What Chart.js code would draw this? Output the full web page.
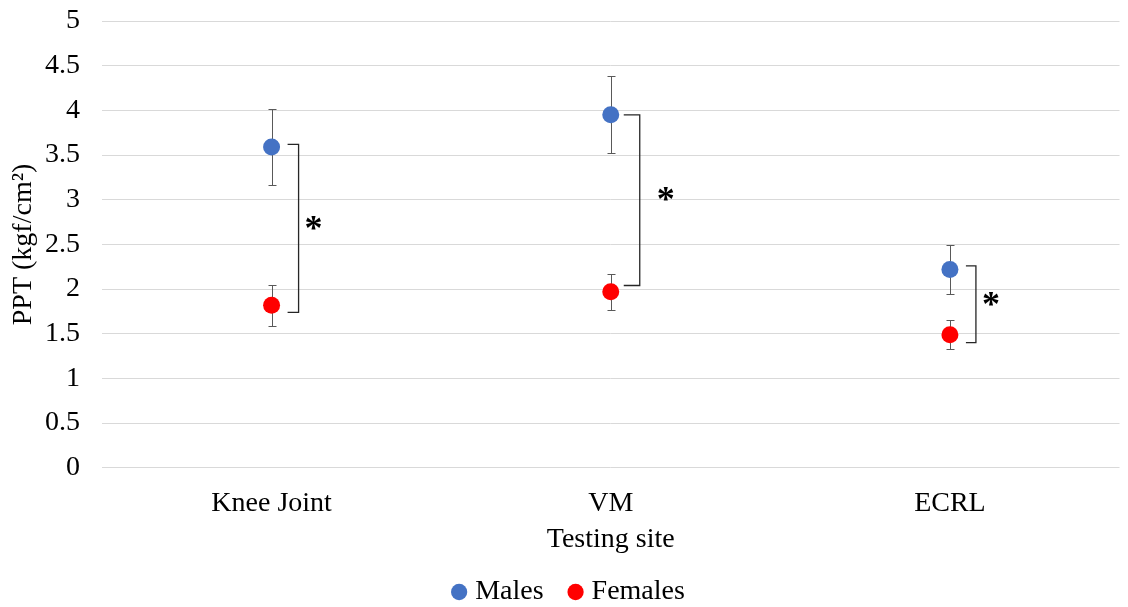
<!DOCTYPE html>
<html>
<head>
<meta charset="utf-8">
<script src="https://cdn.jsdelivr.net/npm/chart.js@4/dist/chart.umd.min.js"></script>
<style>
html,body{margin:0;padding:0;background:#fff;}
#wrap{width:1128px;height:607px;position:relative;}
</style>
</head>
<body>
<div id="wrap"><canvas id="c" width="1128" height="607"></canvas></div>
<script>
const categories = ["Knee Joint", "VM", "ECRL"];
const malesMean = [3.59, 3.95, 2.22];
const malesErr = [0.43, 0.43, 0.27];
const femalesMean = [1.82, 1.97, 1.49];
const femalesErr = [0.23, 0.20, 0.16];
const bracketTop = [3.62, 3.95, 2.26];
const bracketBottom = [1.74, 2.04, 1.40];
const yTicks = [0, 0.5, 1, 1.5, 2, 2.5, 3, 3.5, 4, 4.5, 5];

const SERIF = "'Liberation Serif', 'Times New Roman', serif";
const FS = 28;
const bracketStyle = [{start:16, end:27, star:15}, {start:13, end:29, star:26}, {start:16, end:26, star:15}];

const errorBarPlugin = {
  id: 'errorBars',
  beforeDatasetsDraw(chart) {
    const ctx = chart.ctx;
    const y = chart.scales.y;
    ctx.save();
    ctx.strokeStyle = '#595959';
    ctx.lineWidth = 1;
    chart.data.datasets.forEach((ds, di) => {
      const meta = chart.getDatasetMeta(di);
      meta.data.forEach((pt, i) => {
        const e = ds.errors[i];
        const v = ds.data[i];
        const yt = Math.round(y.getPixelForValue(v + e)) + 0.5;
        const yb = Math.round(y.getPixelForValue(v - e)) + 0.5;
        const x = Math.round(pt.x) + 0.5;
        ctx.beginPath();
        ctx.moveTo(x, yt); ctx.lineTo(x, yb);
        ctx.moveTo(x - 4, yt); ctx.lineTo(x + 4, yt);
        ctx.moveTo(x - 4, yb); ctx.lineTo(x + 4, yb);
        ctx.stroke();
      });
    });
    ctx.restore();
  }
};

const bracketPlugin = {
  id: 'brackets',
  afterDatasetsDraw(chart) {
    const ctx = chart.ctx;
    const xs = chart.scales.x, ys = chart.scales.y;
    ctx.save();
    ctx.strokeStyle = '#262626';
    ctx.lineWidth = 1.3;
    categories.forEach((c, i) => {
      const cx = xs.getPixelForValue(i);
      const x0 = cx + bracketStyle[i].start;
      const x1 = cx + bracketStyle[i].end;
      const yt = ys.getPixelForValue(bracketTop[i]);
      const yb = ys.getPixelForValue(bracketBottom[i]);
      ctx.beginPath();
      ctx.moveTo(x0, yt); ctx.lineTo(x1, yt); ctx.lineTo(x1, yb); ctx.lineTo(x0, yb);
      ctx.stroke();
      ctx.fillStyle = '#000';
      ctx.font = "bold 36px " + SERIF;
      ctx.textAlign = 'center';
      ctx.textBaseline = 'middle';
      ctx.fillText('*', x1 + bracketStyle[i].star, (yt + yb) / 2 + 2);
    });
    ctx.restore();
  }
};

const legendShift = {
  id: 'legendShift',
  afterLayout(chart) {
    if (chart.legend) { chart.legend.left += 10; chart.legend.right += 10; }
  }
};

new Chart(document.getElementById('c'), {
  type: 'line',
  data: {
    labels: categories,
    datasets: [
      {label: 'Males', data: malesMean, errors: malesErr, showLine: false,
       backgroundColor: '#4472C4', borderColor: '#4472C4', pointRadius: 8.5, pointHoverRadius: 8.5, pointBorderWidth: 0},
      {label: 'Females', data: femalesMean, errors: femalesErr, showLine: false,
       backgroundColor: '#FF0000', borderColor: '#FF0000', pointRadius: 8.5, pointHoverRadius: 8.5, pointBorderWidth: 0}
    ]
  },
  plugins: [errorBarPlugin, bracketPlugin, legendShift],
  options: {
    responsive: false,
    animation: false,
    layout: {padding: {top: 21, right: 6, left: 0, bottom: -9}},
    plugins: {
      tooltip: {enabled: false},
      legend: {
        position: 'bottom',
        labels: {
          usePointStyle: true, pointStyle: 'circle', boxWidth: 4, boxHeight: 11.5,
          color: '#000', font: {family: SERIF, size: FS}, padding: 30
        }
      }
    },
    scales: {
      x: {
        offset: true,
        grid: {display: false, drawTicks: false},
        border: {display: false},
        ticks: {color: '#000', font: {family: SERIF, size: FS}, padding: 19},
        title: {display: true, text: 'Testing site', color: '#000', font: {family: SERIF, size: FS}, padding: {top: -17, bottom: -8}}
      },
      y: {
        min: 0, max: 5,
        afterBuildTicks(scale) { scale.ticks = yTicks.map(v => ({value: v})); },
        afterFit(scale) { scale.width = 102; scale.paddingTop = 0; scale.paddingBottom = 0; },
        grid: {color: '#D9D9D9', drawTicks: false},
        border: {display: false},
        ticks: {color: '#000', font: {family: SERIF, size: FS}, padding: 22,
                callback: v => String(v)},
        title: {display: true, text: 'PPT (kgf/cm²)', color: '#000', font: {family: SERIF, size: FS}, padding: {top: 7, bottom: 0}}
      }
    }
  }
});
</script>
</body>
</html>
